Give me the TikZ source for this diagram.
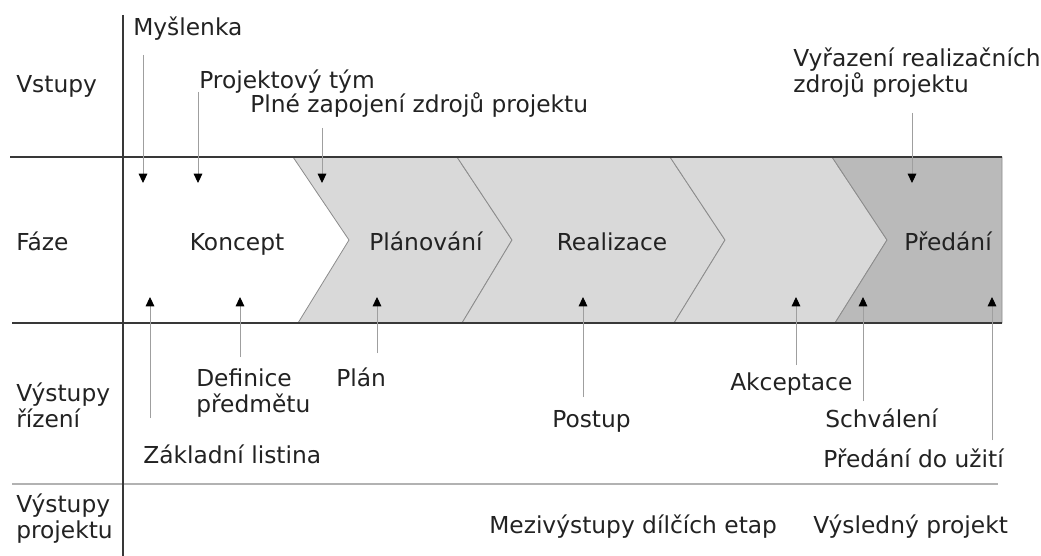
\documentclass[tikz,border=0pt]{standalone}
\usepackage{fontspec}
\setmainfont{DejaVu Sans}
\usetikzlibrary{arrows.meta}
\definecolor{txt}{HTML}{222222}
\definecolor{light}{HTML}{D9D9D9}
\definecolor{dark}{HTML}{BABABA}
\definecolor{rule}{HTML}{383838}
\definecolor{edge}{HTML}{8C8C8C}
\begin{document}
\begin{tikzpicture}[x=0.75pt,y=-0.75pt,
  lbl/.style={anchor=base west,inner sep=0pt,align=left,text=txt,font=\fontsize{17.5}{19.5}\selectfont},
  phase/.style={anchor=base,inner sep=0pt,text=txt,font=\fontsize{17.5}{19.5}\selectfont},
  chev/.style={draw=edge,line width=0.6pt},
  pin/.style={draw=gray!75,line width=0.7pt,-{Triangle[length=7pt,width=6.5pt,color=black]}}]
\useasboundingbox (0,0) rectangle (1041,556);
% faze
\draw[chev,fill=light] (293,157) -- (457,157) -- (512,240) -- (462,323) -- (298,323) -- (349,240) -- cycle;
\draw[chev,fill=light] (457,157) -- (670,157) -- (725,240) -- (674,323) -- (462,323) -- (512,240) -- cycle;
\draw[chev,fill=light] (670,157) -- (832,157) -- (887,240) -- (835,323) -- (674,323) -- (725,240) -- cycle;
\draw[chev,fill=dark] (832,157) -- (1002,157) -- (1002,323) -- (835,323) -- (887,240) -- cycle;
\draw[rule,line width=1.5pt] (10,157) -- (1002,157);
\draw[rule,line width=1.5pt] (12,323) -- (1002,323);
\draw[gray!60,line width=0.8pt] (12,484) -- (998,484);
\draw[rule,line width=1.5pt] (123,15) -- (123,556);
% radky
\node[lbl] (vstupy) at (16,93) {Vstupy};
\node[lbl] (faze) at (16,250) {Fáze};
\node[lbl] (vyst-r) at (16,427) {Výstupy\\řízení};
\node[lbl] (vyst-p) at (16,538) {Výstupy\\projektu};
\node[phase] (koncept) at (237,250) {Koncept};
\node[phase] (planovani) at (426,250) {Plánování};
\node[phase] (realizace) at (612,250) {Realizace};
\node[phase] (predani) at (948,250) {Předání};
% vstupy
\node[lbl] (myslenka) at (133,36) {Myšlenka};
\node[lbl] (tym) at (199,89) {Projektový tým};
\node[lbl] (zapojeni) at (250,113) {Plné zapojení zdrojů projektu};
\node[lbl] (vyrazeni) at (793,93) {Vyřazení realizačních\\zdrojů projektu};
\coordinate (myslenka-a) at (143,55);  \coordinate (myslenka-b) at (143,183);
\coordinate (tym-a) at (198,92);       \coordinate (tym-b) at (198,183);
\coordinate (zapojeni-a) at (322,128); \coordinate (zapojeni-b) at (322,183);
\coordinate (vyrazeni-a) at (912,113); \coordinate (vyrazeni-b) at (912,183);
\draw[pin] (myslenka-a) -- (myslenka-b);
\draw[pin] (tym-a) -- (tym-b);
\draw[pin] (zapojeni-a) -- (zapojeni-b);
\draw[pin] (vyrazeni-a) -- (vyrazeni-b);
% vystupy rizeni
\node[lbl] (listina) at (143,463) {Základní listina};
\node[lbl] (definice) at (196,412) {Definice\\předmětu};
\node[lbl] (plan) at (336,386) {Plán};
\node[lbl] (postup) at (552,427) {Postup};
\node[lbl] (akceptace) at (730,390) {Akceptace};
\node[lbl] (schvaleni) at (825,427) {Schválení};
\node[lbl] (uziti) at (823,467) {Předání do užití};
\coordinate (listina-a) at (150,418);   \coordinate (listina-b) at (150,297);
\coordinate (definice-a) at (240,357);  \coordinate (definice-b) at (240,297);
\coordinate (plan-a) at (377,353);      \coordinate (plan-b) at (377,297);
\coordinate (postup-a) at (583,397);    \coordinate (postup-b) at (583,297);
\coordinate (akceptace-a) at (796,365); \coordinate (akceptace-b) at (796,297);
\coordinate (schvaleni-a) at (863,401); \coordinate (schvaleni-b) at (863,297);
\coordinate (uziti-a) at (992,440);     \coordinate (uziti-b) at (992,297);
\draw[pin] (listina-a) -- (listina-b);
\draw[pin] (definice-a) -- (definice-b);
\draw[pin] (plan-a) -- (plan-b);
\draw[pin] (postup-a) -- (postup-b);
\draw[pin] (akceptace-a) -- (akceptace-b);
\draw[pin] (schvaleni-a) -- (schvaleni-b);
\draw[pin] (uziti-a) -- (uziti-b);
% vystupy projektu
\node[lbl] (mezi) at (489,533) {Mezivýstupy dílčích etap};
\node[lbl] (vysledny) at (813,533) {Výsledný projekt};
\end{tikzpicture}
\end{document}
